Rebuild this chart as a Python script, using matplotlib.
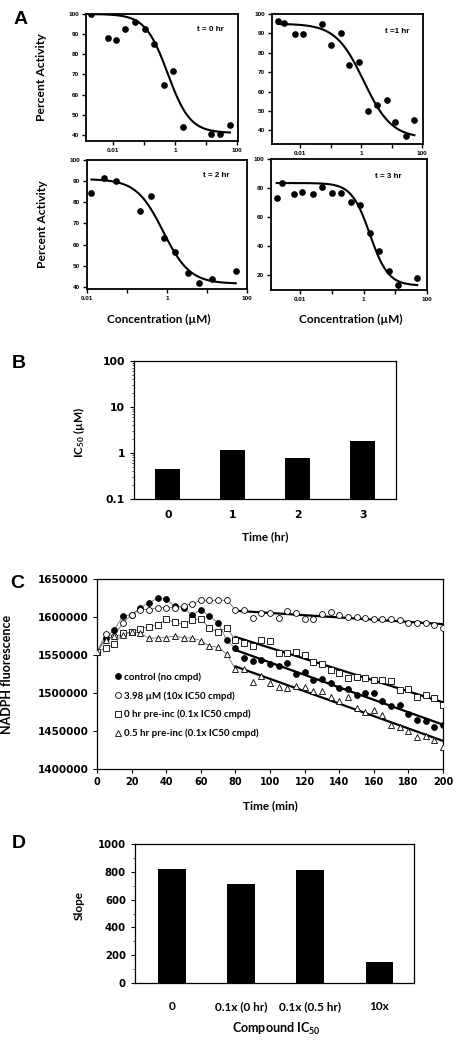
import numpy as np
import matplotlib
matplotlib.use('Agg')
import matplotlib.pyplot as plt
from matplotlib.ticker import FixedLocator, FixedFormatter, NullLocator, LogLocator, MultipleLocator, StrMethodFormatter

plt.rcParams['mathtext.fontset'] = 'custom'
plt.rcParams['mathtext.rm'] = 'Lato:bold'
plt.rcParams['mathtext.default'] = 'rm'

# ---- panel A: dose response (concentration in uM, percent activity)
conc_0h = [0.00182, 0.00646, 0.0120, 0.0245, 0.0513, 0.102, 0.204, 0.427, 0.832, 1.74, 14.5, 28.2, 58.9]
act_0h = [100, 88.2, 86.9, 92.5, 95.8, 92.5, 85.2, 64.9, 71.6, 43.9, 40.5, 40.5, 45.0]
conc_1h = [0.00186, 0.00288, 0.00692, 0.0123, 0.0537, 0.102, 0.214, 0.407, 0.861, 1.70, 3.31, 6.76, 13.2, 28.2, 55.0]
act_1h = [96.2, 95.4, 89.9, 89.9, 94.7, 84.2, 90.2, 73.5, 75.1, 50.0, 53.3, 55.8, 44.3, 36.9, 45.4]
conc_2h = [0.0129, 0.0263, 0.0525, 0.209, 0.407, 0.832, 1.62, 3.31, 6.46, 13.2, 52.5]
act_2h = [84.2, 91.5, 89.9, 76.0, 83.1, 63.3, 56.7, 46.7, 42.0, 43.7, 47.4]
conc_3h = [0.00182, 0.00275, 0.00646, 0.0117, 0.0251, 0.049, 0.10, 0.195, 0.398, 0.776, 1.55, 3.09, 6.46, 12.3, 49.0]
act_3h = [73.2, 83.6, 76.1, 77.5, 76.1, 80.5, 76.6, 76.6, 70.5, 68.4, 49.5, 37.0, 23.2, 13.6, 18.2]
# fitted curve parameters: top, bottom, IC50, hill
fit_0h = [100, 41, 0.57, 1.2]
fit_1h = [95, 36, 1.2, 0.95]
fit_2h = [91, 41.5, 0.8, 1.3]
fit_3h = [83.5, 13, 1.58, 1.5]

# ---- panel B
time_hr = ['0', '1', '2', '3']
ic50 = [0.46, 1.19, 0.78, 1.81]

# ---- panel C
time_min = [0, 5, 10, 15, 20, 25, 30, 35, 40, 45, 50, 55, 60, 65, 70, 75, 80, 85, 90, 95, 100,
            105, 110, 115, 120, 125, 130, 135, 140, 145, 150, 155, 160, 165, 170, 175, 180, 185, 190, 195, 200]
control = [1554000, 1573000, 1583000, 1601500, 1603000, 1612400, 1618500, 1624700, 1623800, 1614000,
           1612400, 1602000, 1609800, 1601000, 1592400, 1569600, 1558800, 1545700, 1542600, 1543500,
           1538300, 1535600, 1540000, 1525100, 1528200, 1517300, 1518200, 1513000, 1506400, 1505100,
           1497600, 1500600, 1500600, 1488900, 1482300, 1484600, 1472800, 1464900, 1462700, 1455300, 1458300]
cmpd_10x = [1554000, 1577000, 1575300, 1592400, 1603000, 1609800, 1609800, 1612400, 1612400, 1612400,
            1615000, 1617000, 1622000, 1622000, 1622000, 1622000, 1609800, 1609800, 1599000, 1605500,
            1605500, 1599000, 1607600, 1605500, 1597000, 1597000, 1603700, 1606800, 1602000, 1600200,
            1600200, 1598500, 1597600, 1597600, 1597600, 1596700, 1591500, 1592400, 1591500, 1588900, 1585000]
pre_0hr = [1554000, 1559600, 1564400, 1578400, 1580100, 1584500, 1587100, 1589300, 1597200, 1592800,
           1590200, 1595900, 1598000, 1585000, 1580600, 1585800, 1569600, 1566200, 1562200, 1569600,
           1568800, 1552200, 1553100, 1554400, 1550000, 1541300, 1538300, 1530400, 1526100, 1519500,
           1520800, 1519500, 1517300, 1516500, 1515200, 1504200, 1505100, 1494600, 1497600, 1493300, 1483700]
pre_05hr = [1554000, 1570000, 1575000, 1576000, 1580600, 1578700, 1572000, 1572500, 1573000, 1575000,
            1572500, 1572500, 1568800, 1561800, 1560100, 1551300, 1531200, 1531200, 1515100, 1522600,
            1513800, 1508500, 1506400, 1509400, 1508500, 1502000, 1502000, 1494600, 1489800, 1494600,
            1480200, 1474500, 1477100, 1471500, 1458300, 1455300, 1449600, 1442300, 1443100, 1438800, 1428600]
c_labels = ['control (no cmpd)', '3.98 \u00b5M (10x IC50 cmpd)', '0 hr pre-inc (0.1x IC50 cmpd)',
            '0.5 hr pre-inc (0.1x IC50 cmpd)']

# ---- panel D
d_cats = ['0', '0.1x (0 hr)', '0.1x (0.5 hr)', '10x']
slopes = [820, 712, 810, 152]

W, H = 465, 1046
fig = plt.figure(figsize=(W / 100, H / 100), dpi=100)


def box(l, t, r, b):
    return [l / W, 1 - b / H, (r - l) / W, (b - t) / H]


LATO = 'Lato'
ARIAL = 'Liberation Sans'
DJV = 'DejaVu Sans'


def dose_panel(rect, conc, act, fit, xlim, ylim, yticks, tag, tagpos, ylab, xlab):
    ax = fig.add_axes(rect)
    top, bot, ic, h = fit
    xs = np.logspace(np.log10(min(conc)), np.log10(max(conc)), 200)
    ax.plot(xs, bot + (top - bot) / (1 + (xs / ic) ** h), color='black', lw=1.5)
    ax.plot(conc, act, 'o', color='black', ms=3.8)
    ax.set_xscale('log')
    ax.set_xlim(*xlim)
    ax.set_ylim(*ylim)
    ax.xaxis.set_major_locator(FixedLocator([0.01, 0.1, 1, 10, 100]))
    ax.xaxis.set_major_formatter(FixedFormatter(['0.01', '', '1', '', '100']))
    ax.xaxis.set_minor_locator(NullLocator())
    ax.set_yticks(yticks)
    for s in ax.spines.values():
        s.set_linewidth(1.3)
    ax.tick_params(direction='out', length=3, width=1, labelsize=4.6, pad=2)
    for lab in ax.get_xticklabels() + ax.get_yticklabels():
        lab.set_fontfamily(ARIAL)
        lab.set_fontweight('bold')
    ax.text(tagpos[0], tagpos[1], tag, transform=ax.transAxes, ha='center', va='center',
            fontsize=5.8, fontweight='bold', family=ARIAL)
    if ylab:
        ax.set_ylabel('Percent Activity', fontsize=8.7, fontweight='bold', family=LATO)
        ax.yaxis.set_label_coords(ylab, 0.5)
    if xlab:
        ax.set_xlabel('Concentration (\u00b5M)', fontsize=8.5, fontweight='bold', family=LATO)
        ax.xaxis.set_label_coords(xlab[0], xlab[1])
    return ax


dose_panel(box(86, 14, 238, 141), conc_0h, act_0h, fit_0h, (0.0013, 107), (37, 100),
           [40, 50, 60, 70, 80, 90, 100], 't = 0 hr', (0.816, 0.875), -0.257, None)
dose_panel(box(272, 14, 423, 144), conc_1h, act_1h, fit_1h, (0.0012, 105), (33, 100),
           [40, 50, 60, 70, 80, 90, 100], 't =1 hr', (0.83, 0.867), None, None)
dose_panel(box(87, 160, 247, 289), conc_2h, act_2h, fit_2h, (0.01, 100), (39, 100),
           [40, 50, 60, 70, 80, 90, 100], 't = 2 hr', (0.81, 0.876), -0.245, (0.447, -0.19))
dose_panel(box(271, 159, 427, 290), conc_3h, act_3h, fit_3h, (0.0012, 100), (10, 100),
           [20, 40, 60, 80, 100], 't = 3 hr', (0.75, 0.87), None, (0.51, -0.18))

# ---- B
axb = fig.add_axes(box(134, 361, 396, 499))
xb = np.arange(len(ic50))
axb.bar(xb, ic50, width=0.385, color='black')
axb.set_yscale('log')
axb.set_ylim(0.1, 100)
axb.set_xlim(-0.52, 3.51)
axb.set_xticks(xb)
axb.set_xticklabels(time_hr)
axb.yaxis.set_major_locator(FixedLocator([0.1, 1, 10, 100]))
axb.yaxis.set_major_formatter(FixedFormatter(['0.1', '1', '10', '100']))
axb.yaxis.set_minor_locator(LogLocator(base=10, subs=np.arange(2, 10)))
axb.tick_params(axis='x', length=0, pad=8)
axb.tick_params(axis='y', direction='out', length=3, width=0.8)
axb.tick_params(axis='y', which='minor', direction='out', length=1.8, width=0.5)
for lab in axb.get_xticklabels() + axb.get_yticklabels():
    lab.set_fontfamily(DJV)
    lab.set_fontweight('bold')
    lab.set_fontsize(7.8)
for s in axb.spines.values():
    s.set_linewidth(0.9)
axb.set_ylabel('IC$_{50}$ (\u00b5M)', fontsize=8.5, fontweight='bold', family=LATO)
axb.yaxis.set_label_coords(-0.18, 0.478)
axb.set_xlabel('Time (hr)', fontsize=8.5, fontweight='bold', family=LATO)
axb.xaxis.set_label_coords(0.5, -0.23)

# ---- C
axc = fig.add_axes(box(97, 579, 443, 769))
t = np.array(time_min)
series = [(control, 'o', 'black'), (cmpd_10x, 'o', 'white'), (pre_0hr, 's', 'white'), (pre_05hr, '^', 'white')]
early = t <= 80
late = t >= 80
handles = []
for vals, mk, fc in series:
    v = np.array(vals)
    axc.plot(t[early], v[early], color='#707070', lw=0.6, zorder=2)
for vals, mk, fc in series:
    v = np.array(vals)
    k, b0 = np.polyfit(t[late], v[late], 1)
    axc.plot([80, 200], [k * 80 + b0, k * 200 + b0], color='black', lw=1.6, zorder=3)
for (vals, mk, fc), lab in zip(series, c_labels):
    h, = axc.plot(t, vals, mk, mfc=fc, mec='black', mew=0.6, ms=4.2 if mk != 's' else 4.0,
                  ls='none', zorder=4, label=lab)
    handles.append(h)
axc.set_xlim(0, 200)
axc.set_ylim(1400000, 1650000)
axc.xaxis.set_major_locator(MultipleLocator(20))
axc.yaxis.set_major_locator(MultipleLocator(50000))
axc.yaxis.set_major_formatter(StrMethodFormatter('{x:.0f}'))
axc.tick_params(direction='out', length=3, width=0.8, pad=3)
for lab in axc.get_xticklabels():
    lab.set_fontfamily(DJV)
    lab.set_fontweight('bold')
    lab.set_fontsize(7)
for lab in axc.get_yticklabels():
    lab.set_fontfamily(DJV)
    lab.set_fontweight('bold')
    lab.set_fontsize(7.5)
for s in axc.spines.values():
    s.set_linewidth(0.9)
axc.set_ylabel('NADPH fluorescence', fontsize=9, fontweight='bold', family=LATO)
axc.yaxis.set_label_coords(-0.243, 0.5)
axc.set_xlabel('Time (min)', fontsize=8.5, fontweight='bold', family=LATO)
axc.xaxis.set_label_coords(0.5, -0.165)
axc.legend(handles=handles, loc='upper left', bbox_to_anchor=(0.04, 0.53), frameon=False,
           prop={'family': LATO, 'weight': 'bold', 'size': 7}, handlelength=0.6,
           handletextpad=0.4, labelspacing=0.95, borderaxespad=0)

# ---- D
axd = fig.add_axes(box(135, 844, 414, 983))
xd = np.arange(len(slopes))
axd.bar(xd, slopes, width=0.4, color='black')
axd.set_xlim(-0.53, 3.5)
axd.set_ylim(0, 1000)
axd.set_xticks(xd)
axd.set_xticklabels(d_cats)
axd.yaxis.set_major_locator(MultipleLocator(200))
axd.yaxis.set_minor_locator(MultipleLocator(100))
axd.tick_params(axis='x', length=0, pad=13)
axd.tick_params(axis='y', direction='out', length=3, width=0.8)
axd.tick_params(axis='y', which='minor', direction='out', length=1.8, width=0.5)
for lab in axd.get_xticklabels():
    lab.set_fontfamily(LATO)
    lab.set_fontweight('bold')
    lab.set_fontsize(8.5)
for lab in axd.get_yticklabels():
    lab.set_fontfamily(DJV)
    lab.set_fontweight('bold')
    lab.set_fontsize(7.3)
for s in axd.spines.values():
    s.set_linewidth(0.9)
axd.set_ylabel('Slope', fontsize=8.5, fontweight='bold', family=LATO)
axd.yaxis.set_label_coords(-0.18, 0.56)
axd.set_xlabel('Compound IC$_{50}$', fontsize=9, fontweight='bold', family=LATO)
axd.xaxis.set_label_coords(0.508, -0.27)

for letter, (x, y) in zip('ABCD', [(20.5, 20), (19, 364), (17.5, 583.5), (19, 843.5)]):
    fig.text(x / W, 1 - y / H, letter, ha='center', va='center', fontsize=14,
             fontweight='bold', family=ARIAL)

fig.savefig('out.png', dpi=100)
